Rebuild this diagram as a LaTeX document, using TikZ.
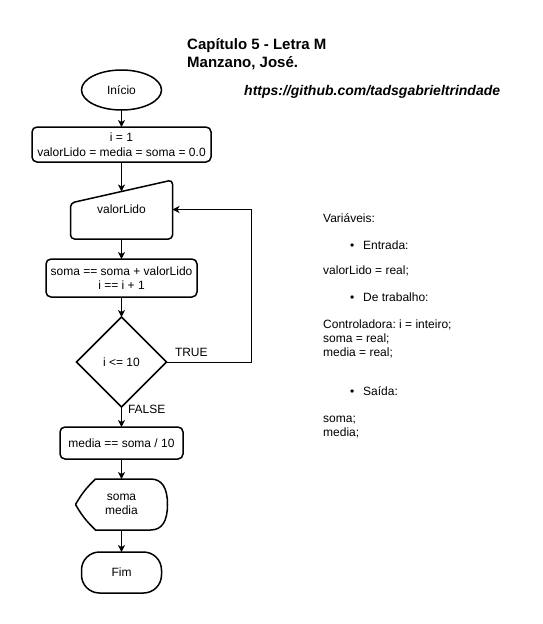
\documentclass[tikz,border=0pt]{standalone}
\usepackage{fontspec}
\setmainfont{Liberation Sans}
\usetikzlibrary{positioning,shapes.geometric,arrows.meta,calc}
\frenchspacing

\tikzstyle{term} = [ellipse, draw, line width=1.5pt, minimum width=80pt, minimum height=40pt, inner sep=0pt, outer sep=0pt]
\tikzstyle{proc} = [rectangle, rounded corners=5pt, draw, line width=1.5pt, align=center, inner sep=0pt, outer sep=0pt]
\tikzstyle{shp} = [rectangle, align=center, inner sep=0pt, outer sep=0pt]
\tikzstyle{dec} = [diamond, draw, line width=1.5pt, minimum width=90pt, minimum height=90pt, inner sep=0pt, outer sep=0pt]
\tikzstyle{seta} = [-{Stealth[length=7pt,width=7pt,inset=2pt]}, line width=1pt]
\tikzstyle{info} = [anchor=base west, inner sep=0pt]
\newcommand{\bala}{\llap{\textbullet\hspace{9pt}}}

\begin{document}
\begin{tikzpicture}[x=1pt, y=1pt, font=\fontsize{12}{14.5}\selectfont]
\useasboundingbox (0,0) rectangle (542,-624);

% titulo
\node[info, font=\fontsize{15}{18}\selectfont\bfseries] (titulo) at (187,-49.4) {Capítulo 5 - Letra M};
\node[info, font=\fontsize{15}{18}\selectfont\bfseries] (autor) at (187,-67.4) {Manzano, José.};
\node[info, font=\fontsize{14}{17}\selectfont\bfseries\itshape] (link) at (244,-95) {https://github.com/tadsgabrieltrindade};

% fluxograma
\node[term] (inicio) at (121.5,-90) {Início};
\node[proc, minimum width=179pt, minimum height=35pt, below=17pt of inicio] (init) {i = 1\\valorLido = media = soma = 0.0};
\node[shp, minimum width=102pt, minimum height=59pt, below=18pt of init] (lido) {valorLido};
\node[proc, minimum width=151pt, minimum height=38pt, below=20pt of lido] (soma) {soma == soma + valorLido\\i == i + 1};
\node[dec, below=20pt of soma] (teste) {i <= 10};
\node[proc, minimum width=123pt, minimum height=32pt, below=20pt of teste] (media) {media == soma / 10};
\node[shp, minimum width=92pt, minimum height=51pt, below=20pt of media] (saida) {soma\\media};
\node[proc, rounded corners=18pt, minimum width=80pt, minimum height=41pt, below=22pt of saida] (fim) {Fim};

% entrada manual
\draw[line width=1.5pt, rounded corners=4pt] (lido.south west) -- ($(lido.north west)+(0,-23)$) -- (lido.north east) -- (lido.south east) -- cycle;
\coordinate (lidotop) at ($($(lido.north west)+(0,-23)$)!0.5!(lido.north east)$);

% exibicao
\draw[line width=1.5pt] (saida.west) to[bend left=8] ($(saida.north west)+(20,0)$)
    -- ($(saida.north east)+(-17,0)$)
    .. controls ($(saida.north east)+(-5.7,0)$) and ($(saida.east)+(0,17)$) .. (saida.east)
    .. controls ($(saida.east)+(0,-17)$) and ($(saida.south east)+(-5.7,0)$) .. ($(saida.south east)+(-17,0)$)
    -- ($(saida.south west)+(20,0)$) to[bend left=8] (saida.west);

\coordinate (volta) at ($(teste.east)+(85,0)$);

\draw[seta] (inicio) -- (init);
\draw[seta] (init) -- (lidotop);
\draw[seta] (lido) -- (soma);
\draw[seta] (soma) -- (teste);
\draw[seta] (teste.east) node[info, xshift=8pt, yshift=5.7pt] (verdade) {TRUE} -- (volta) |- (lido.east);
\draw[seta] (teste.south) node[info, xshift=6pt, yshift=-6.3pt] (falso) {FALSE} -- (media);
\draw[seta] (media) -- (saida);
\draw[seta] (saida) -- (fim);

% variaveis
\node[info] (var) at (323,-222.3) {Variáveis:};
\node[info] (entrada) at (363,-249.3) {\bala Entrada:};
\node[info] (varlido) at (323,-274.3) {valorLido = real;};
\node[info] (trabalho) at (363,-301.3) {\bala De trabalho:};
\node[info] (contr) at (323,-328.3) {Controladora: i = inteiro;};
\node[info] (varsoma) at (323,-342.3) {soma = real;};
\node[info] (varmedia) at (323,-356.3) {media = real;};
\node[info] (saidatxt) at (363,-395.3) {\bala Saída:};
\node[info] (outsoma) at (323,-422.3) {soma;};
\node[info] (outmedia) at (323,-436.3) {media;};
\end{tikzpicture}
\end{document}
